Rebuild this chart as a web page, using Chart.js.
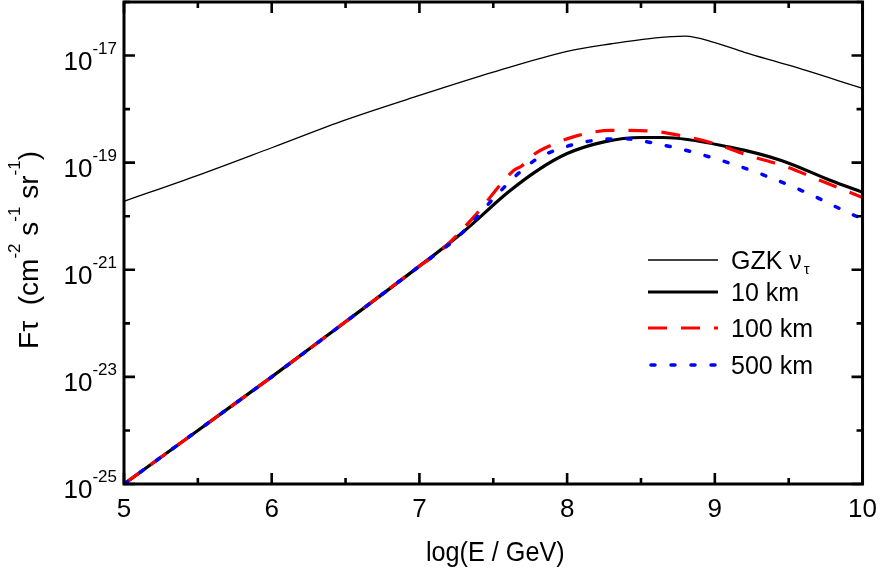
<!DOCTYPE html>
<html><head><meta charset="utf-8">
<script src="https://cdn.jsdelivr.net/npm/chart.js@4"></script>
<style>html,body{margin:0;padding:0;background:#fff;}</style>
</head><body>
<canvas id="c" width="887" height="571"></canvas>
<script>
// ---- data ----
const seriesNames = ['GZK \u03BD', '10 km', '100 km', '500 km'];
const legendSub = ['\u03C4', '', '', ''];
const xTicksMajor = [5, 6, 7, 8, 9, 10];
const xTicksMinor = [5.5, 6.5, 7.5, 8.5, 9.5];
const yTickExps = [-25, -23, -21, -19, -17];
const yMinorExps = [-24, -22, -20, -18, -16];

const xGZK = [5.0, 5.5, 6.0, 6.5, 7.0, 7.5, 8.0, 8.3, 8.6, 8.8, 9.0, 9.2, 9.5, 10.0];
const yGZK = [1.9e-20, 5.8e-20, 1.9e-19, 6.3e-19, 1.8e-18, 4.9e-18, 1.2e-17, 1.66e-17, 2.14e-17, 2.3e-17, 1.74e-17, 1.15e-17, 6.6e-18, 2.45e-18];

const x10 = [5.0, 5.5, 6.0, 6.5, 7.0, 7.3, 7.6, 7.8, 8.0, 8.25, 8.5, 8.65, 9.1, 9.45, 9.78, 10.0];
const y10 = [1e-25, 1e-24, 1e-23, 1.07e-22, 1.17e-21, 5.2e-21, 2.8e-20, 7.2e-20, 1.48e-19, 2.45e-19, 2.95e-19, 2.95e-19, 1.95e-19, 1.1e-19, 4.7e-20, 2.8e-20];

const x100 = [5.0, 5.5, 6.0, 6.5, 7.0, 7.15, 7.37, 7.64, 7.69, 7.78, 7.89, 8.07, 8.3, 8.56, 8.77, 8.99, 9.22, 9.49, 9.71, 10.0];
const y100 = [1e-25, 1e-24, 1e-23, 1.07e-22, 1.17e-21, 2.34e-21, 9.8e-21, 7.2e-20, 8.6e-20, 1.45e-19, 2.1e-19, 3.2e-19, 4.0e-19, 3.9e-19, 3.2e-19, 2.3e-19, 1.38e-19, 8.3e-20, 4.7e-20, 2.24e-20];

const x500 = [5.0, 5.5, 6.0, 6.5, 7.0, 7.26, 7.53, 7.67, 7.80, 7.96, 8.09, 8.23, 8.39, 8.52, 8.79, 9.08, 9.35, 9.64, 9.94, 10.0];
const y500 = [1e-25, 1e-24, 1e-23, 1.07e-22, 1.17e-21, 4.1e-21, 2.6e-20, 6.3e-20, 1.2e-19, 1.86e-19, 2.34e-19, 2.7e-19, 2.8e-19, 2.5e-19, 1.74e-19, 1.02e-19, 5.6e-20, 2.6e-20, 1.05e-20, 9.1e-21];

const xTitle = 'log(E / GeV)';
// ----------------------------------------

const pts = (xs, ys) => xs.map((x, i) => ({x: x, y: ys[i]}));
const FONT = '"Liberation Sans", Arial, Helvetica, sans-serif';

const datasets = [
  {label: seriesNames[0], data: pts(xGZK, yGZK), borderColor: '#000', borderWidth: 1.3, order: 4},
  {label: seriesNames[1], data: pts(x10, y10), borderColor: '#000', borderWidth: 3.2, order: 3},
  {label: seriesNames[2], data: pts(x100, y100), borderColor: '#ff0000', borderWidth: 3.2, borderDash: [19, 14], order: 2},
  {label: seriesNames[3], data: pts(x500, y500), borderColor: '#0000ff', borderWidth: 3.5, borderDash: [4, 16], borderCapStyle: 'round', order: 1}
].map(d => Object.assign({pointRadius: 0, fill: false, cubicInterpolationMode: 'monotone'}, d));

const decor = {
  id: 'decor',
  afterDraw(chart) {
    const ctx = chart.ctx, a = chart.chartArea;
    const xs = chart.scales.x, ys = chart.scales.y;
    ctx.save();
    // frame
    ctx.strokeStyle = '#000';
    ctx.lineWidth = 3;
    ctx.strokeRect(a.left, a.top, a.right - a.left, a.bottom - a.top);
    // ticks (inward, on all sides)
    ctx.lineWidth = 2.6;
    ctx.beginPath();
    const xt = (v, len) => {
      const p = xs.getPixelForValue(v);
      ctx.moveTo(p, a.bottom); ctx.lineTo(p, a.bottom - len);
      ctx.moveTo(p, a.top); ctx.lineTo(p, a.top + len);
    };
    const yt = (v, len) => {
      const p = ys.getPixelForValue(v);
      ctx.moveTo(a.left, p); ctx.lineTo(a.left + len, p);
      ctx.moveTo(a.right, p); ctx.lineTo(a.right - len, p);
    };
    xTicksMajor.forEach(v => xt(v, 11));
    xTicksMinor.forEach(v => xt(v, 6));
    yTickExps.forEach(e => yt(Math.pow(10, e), 11));
    yMinorExps.forEach(e => yt(Math.pow(10, e), 6));
    ctx.stroke();

    // y tick labels 10^n
    ctx.fillStyle = '#000';
    ctx.textBaseline = 'alphabetic';
    yTickExps.forEach(e => {
      const p = ys.getPixelForValue(Math.pow(10, e));
      const sup = '-' + Math.abs(e);
      ctx.font = '17px ' + FONT;
      const sw = ctx.measureText(sup).width;
      ctx.textAlign = 'left';
      const right = 117;
      ctx.fillText(sup, right - sw, p - 2);
      ctx.font = '26px ' + FONT;
      ctx.textAlign = 'right';
      ctx.fillText('10', right - sw, p + 14);
    });

    // x title (slightly condensed like the reference)
    ctx.save();
    ctx.translate((a.left + a.right) / 2 + 2, 561);
    ctx.scale(0.9, 1);
    ctx.font = '28px ' + FONT;
    ctx.textAlign = 'center';
    ctx.fillText(xTitle, 0, 0);
    ctx.restore();

    // y title (rotated) with superscripts
    ctx.save();
    ctx.translate(38, 250);
    ctx.rotate(-Math.PI / 2);
    const parts = [['F\u03C4  (cm', 0], ['-2', 1], [' s', 0], ['-1', 1], [' sr', 0], ['-1', 1], [')', 0]];
    let total = 0;
    parts.forEach(([t, s]) => { ctx.font = (s ? '17px ' : '28px ') + FONT; total += ctx.measureText(t).width; });
    let xx = -total / 2;
    ctx.textAlign = 'left';
    parts.forEach(([t, s]) => {
      ctx.font = (s ? '17px ' : '28px ') + FONT;
      ctx.fillText(t, xx, s ? -18 : 0);
      xx += ctx.measureText(t).width;
    });
    ctx.restore();

    // legend
    const rows = [260, 292, 328, 365];
    chart.data.datasets.forEach((d, i) => {
      const y = rows[i];
      ctx.save();
      ctx.strokeStyle = d.borderColor;
      ctx.lineWidth = d.borderWidth;
      ctx.setLineDash(d.borderDash || []);
      ctx.lineCap = d.borderCapStyle || 'butt';
      ctx.beginPath();
      ctx.moveTo(i === 3 ? 651 : 648, y); ctx.lineTo(718, y);
      ctx.stroke();
      ctx.restore();
      ctx.font = '25px ' + FONT;
      ctx.textAlign = 'left';
      ctx.fillStyle = '#000';
      ctx.fillText(d.label, 731, y + 9);
      if (legendSub[i]) {
        const w = ctx.measureText(d.label).width;
        ctx.font = '15px ' + FONT;
        ctx.fillText(legendSub[i], 731 + w + 2, y + 14);
      }
    });
    ctx.restore();
  }
};

new Chart(document.getElementById('c'), {
  type: 'line',
  data: {datasets: datasets},
  options: {
    responsive: false,
    animation: false,
    devicePixelRatio: 1,
    layout: {padding: {top: 2, right: 20, left: 0, bottom: 0}},
    plugins: {legend: {display: false}, tooltip: {enabled: false}},
    scales: {
      x: {
        type: 'linear', min: 5, max: 10,
        grid: {display: false, drawTicks: false},
        border: {display: false},
        ticks: {stepSize: 1, padding: 10, color: '#000', font: {family: FONT, size: 26}},
        afterFit: s => { s.height = 87; }
      },
      y: {
        type: 'logarithmic', min: 1e-25, max: 1e-16,
        grid: {display: false, drawTicks: false},
        border: {display: false},
        ticks: {display: false},
        afterFit: s => { s.width = 124; }
      }
    }
  },
  plugins: [decor]
});
</script>
</body></html>
